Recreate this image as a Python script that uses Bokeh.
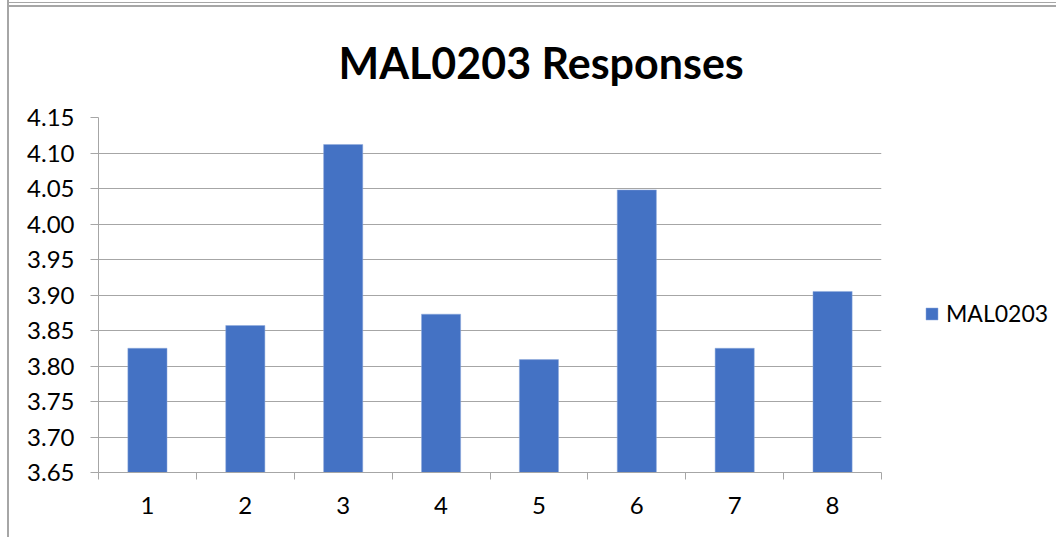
from bokeh.plotting import figure
from bokeh.models import Range1d, FixedTicker, Legend, LegendItem, Title, ColumnDataSource
from bokeh.embed import file_html
from bokeh.resources import INLINE

categories = ["1", "2", "3", "4", "5", "6", "7", "8"]
values = [3.825, 3.857, 4.112, 3.873, 3.809, 4.048, 3.825, 3.905]
y_ticks = [3.65, 3.70, 3.75, 3.80, 3.85, 3.90, 3.95, 4.00, 4.05, 4.10, 4.15]
series_name = "MAL0203"
title_text = "MAL0203 Responses"

FONT = "Lato"
BAR = "#4472C4"
GRID = "#a6a6a6"

xs = list(range(1, len(categories) + 1))
src = ColumnDataSource(dict(x=xs, top=values))

p = figure(width=1056, height=537, output_backend="svg", toolbar_location=None,
           x_range=Range1d(0.5, len(categories) + 0.5), y_range=Range1d(3.65, 4.15),
           frame_width=783, frame_height=355,
           min_border_left=98, min_border_right=175, min_border_top=117, min_border_bottom=65)
p.outline_line_color = None
p.background_fill_color = "white"
p.border_fill_alpha = 0
# chart-area frame lines (top and left), drawn behind the transparent border area
line = "linear-gradient(#a6a6a6,#a6a6a6)"
p.styles = {
    "background-color": "white",
    "background-image": f"{line}, {line}, {line}",
    "background-size": "100% 1px, 100% 2px, 2px 100%",
    "background-position": "8px 2px, 8px 5px, 7px 0px",
    "background-repeat": "no-repeat",
}

r = p.vbar(x="x", top="top", bottom=3.65, width=0.4, source=src,
           fill_color=BAR, line_color="#8faadc", line_width=0.5)

# x axis: labels at centers, tick marks between categories
xt = FixedTicker(ticks=xs, minor_ticks=[i + 0.5 for i in range(0, len(categories) + 1)])
p.xaxis.ticker = xt
p.xaxis.major_label_overrides = {i: c for i, c in zip(xs, categories)}
p.xaxis.major_tick_line_color = None
p.xaxis.minor_tick_line_color = GRID
p.xaxis.minor_tick_out = 7
p.xaxis.minor_tick_in = 0
p.xaxis.axis_line_color = GRID
p.xaxis.major_label_text_font = FONT
p.xaxis.major_label_text_font_size = "24px"
p.xaxis.major_label_text_color = "black"
p.xaxis.major_label_standoff = 17
p.xgrid.grid_line_color = None

p.yaxis.ticker = FixedTicker(ticks=y_ticks)
p.yaxis.major_label_overrides = {t: f"{t:.2f}" for t in y_ticks}
p.yaxis.axis_line_color = GRID
p.yaxis.major_tick_line_color = GRID
p.yaxis.major_tick_out = 8
p.yaxis.major_tick_in = 0
p.yaxis.minor_tick_line_color = None
p.yaxis.major_label_text_font = FONT
p.yaxis.major_label_text_font_size = "24px"
p.yaxis.major_label_text_color = "black"
p.yaxis.major_label_standoff = 16
p.ygrid.grid_line_color = GRID
p.ygrid.grid_line_width = 1

t = Title(text=title_text, text_font=FONT, text_font_size="43px", text_font_style="bold",
          text_color="black", align="left", offset=240, standoff=60)
p.add_layout(t, "above")

legend = Legend(items=[LegendItem(label=series_name, renderers=[r])],
                location=(43, 145), orientation="vertical",
                glyph_width=15, glyph_height=15, label_standoff=7,
                label_text_font=FONT, label_text_font_size="23px", label_text_color="black",
                border_line_color=None, background_fill_alpha=0, padding=0, margin=0,
                label_height=15)
p.add_layout(legend, "right")

open("out.html", "w").write(file_html(p, INLINE))
